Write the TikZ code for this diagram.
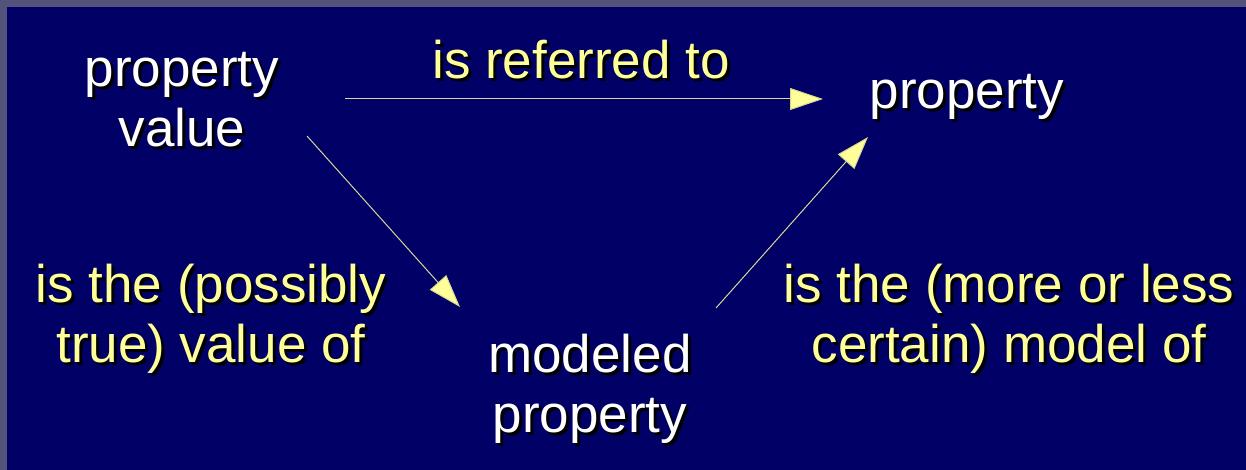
\documentclass[tikz,border=0pt]{standalone}
\usepackage{fontspec}
\setmainfont{Liberation Sans}
\usepackage{tikz}
\usetikzlibrary{arrows.meta,positioning}
\usepackage{xcolor}
\definecolor{slnavy}{RGB}{0,0,102}
\definecolor{slframe}{RGB}{82,82,122}
\definecolor{slyellow}{RGB}{255,255,153}
\definecolor{sllink}{RGB}{215,215,150}
\newcommand{\shd}[1]{\makebox[0pt][l]{\raisebox{-1.5pt}{\hspace{1.5pt}\color{black}#1}}#1}
\tikzstyle{concept} = [inner sep=0pt, align=center, text=white, font=\fontsize{26.5}{30}\selectfont]
\tikzstyle{relation} = [concept, text=slyellow]
\tikzstyle{arrow} = [draw=sllink, line width=0.5pt, -{Triangle[length=16.5pt,width=11pt,fill=slyellow]}]

\begin{document}
\begin{tikzpicture}[x=0.5pt, y=-0.5pt]
% Background
\fill[slframe] (0,0) rectangle (1246,470);
\fill[slnavy] (7,7) rectangle (1246,470);
\useasboundingbox (0,0) rectangle (1246,470);

% Concepts
\node (pval) [concept] at (182,101) {\shd{property}\\\shd{value}};
\node (prop) [concept] at (967,98) {\shd{property}};
\node (mprop) [concept] at (590,390) {\shd{modeled}\\\shd{property}};

% Relations
\node (refto) [relation] at (581,61) {\shd{is referred to}};
\node (valof) [relation] at (211,320) {\shd{is the (possibly}\\\shd{true) value of}};
\node (modof) [relation] at (1009,320) {\shd{is the (more or less}\\\shd{certain) model of}};

% Connections
\draw[arrow] ([shift={(163,-2)}]pval.center) -- ([shift={(-144,1)}]prop.center);
\draw[arrow] ([shift={(125,35)}]pval.center) -- ([shift={(-130,-83)}]mprop.center);
\draw[arrow] ([shift={(126,-82)}]mprop.center) -- ([shift={(-99,39)}]prop.center);
\end{tikzpicture}
\end{document}
